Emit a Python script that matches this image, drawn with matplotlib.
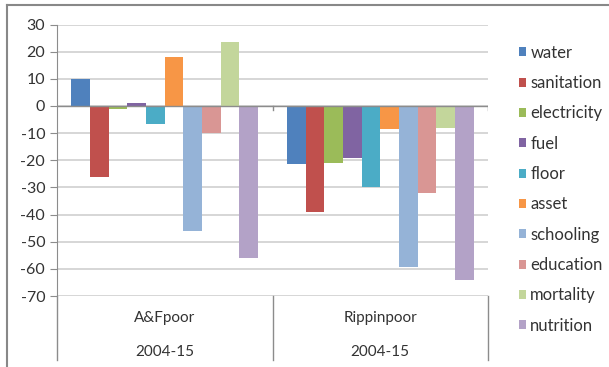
import numpy as np
import matplotlib.pyplot as plt
from matplotlib.lines import Line2D

plt.rcParams['font.family'] = ['Lato', 'DejaVu Sans']
plt.rcParams['axes.unicode_minus'] = False

groups = ["A&Fpoor", "Rippinpoor"]
years = ["2004-15", "2004-15"]
series = ["water", "sanitation", "electricity", "fuel", "floor",
          "asset", "schooling", "education", "mortality", "nutrition"]
colors = ["#4F81BD", "#C0504D", "#9BBB59", "#8064A2", "#4BACC6",
          "#F79646", "#95B3D7", "#D99694", "#C3D69B", "#B3A2C7"]
afpoor = [10, -26, -1, 1, -6.5, 18, -46, -10, 23.5, -56]
rippinpoor = [-21.5, -39, -21, -19.3, -30, -8.4, -59.3, -32, -8, -64.2]

fig = plt.figure(figsize=(6.09, 3.67), dpi=100)
ax = fig.add_axes([57/609, 1 - 296/367, (488-57)/609, (296-24.5)/367])

x = np.arange(len(groups))
bw = 0.0866
vals = np.array([afpoor, rippinpoor])
for i, name in enumerate(series):
    off = (i - (len(series) - 1) / 2) * bw
    ax.bar(x + off, vals[:, i], bw, color=colors[i], label=name, zorder=3)

ax.set_xlim(-0.5, 1.5)
ax.set_ylim(-70, 30)
ax.set_yticks(range(-70, 31, 10))
ax.grid(axis='y', color='#D0D0D0', lw=1.2, zorder=0)
ax.set_axisbelow(True)
ax.axhline(0, color='#8C8C8C', lw=1, zorder=4)
for b in [0.5, 1.5]:
    ax.plot([b, b], [0, -1.5], color='#8C8C8C', lw=1, zorder=4)

for s in ['top', 'right', 'bottom']:
    ax.spines[s].set_visible(False)
ax.spines['left'].set_color('#8C8C8C')
ax.tick_params(axis='y', length=5, color='#8C8C8C', labelsize=11.5, colors='#333333')
ax.tick_params(axis='x', bottom=False, labelbottom=False)

# two-level category axis below the plot
for b in [-0.5, 0.5, 1.5]:
    ax.add_line(Line2D([b, b], [0, -0.236], transform=ax.get_xaxis_transform(),
                       color='#8C8C8C', lw=1, clip_on=False))
for xi, g, yr in zip(x, groups, years):
    ax.text(xi, -0.08, g, transform=ax.get_xaxis_transform(), ha='center',
            va='center', fontsize=11, color='#333333')
    ax.text(xi, -0.205, yr, transform=ax.get_xaxis_transform(), ha='center',
            va='center', fontsize=11, color='#333333')

leg = ax.legend(loc='upper left', bbox_to_anchor=(512/609, 1 - 38/367),
                bbox_transform=fig.transFigure, frameon=False, fontsize=12,
                handlelength=0.45, handleheight=0.45, handletextpad=0.25,
                labelspacing=0.86, borderaxespad=0)
for t in leg.get_texts():
    t.set_color('#333333')

# chart frame
fig.add_artist(Line2D([7/609, 1], [1 - 5/367, 1 - 5/367], transform=fig.transFigure,
                      color='#888888', lw=1.5))
fig.add_artist(Line2D([7/609, 7/609], [0, 1 - 5/367], transform=fig.transFigure,
                      color='#888888', lw=1.5))

fig.savefig("out.png", dpi=100)
